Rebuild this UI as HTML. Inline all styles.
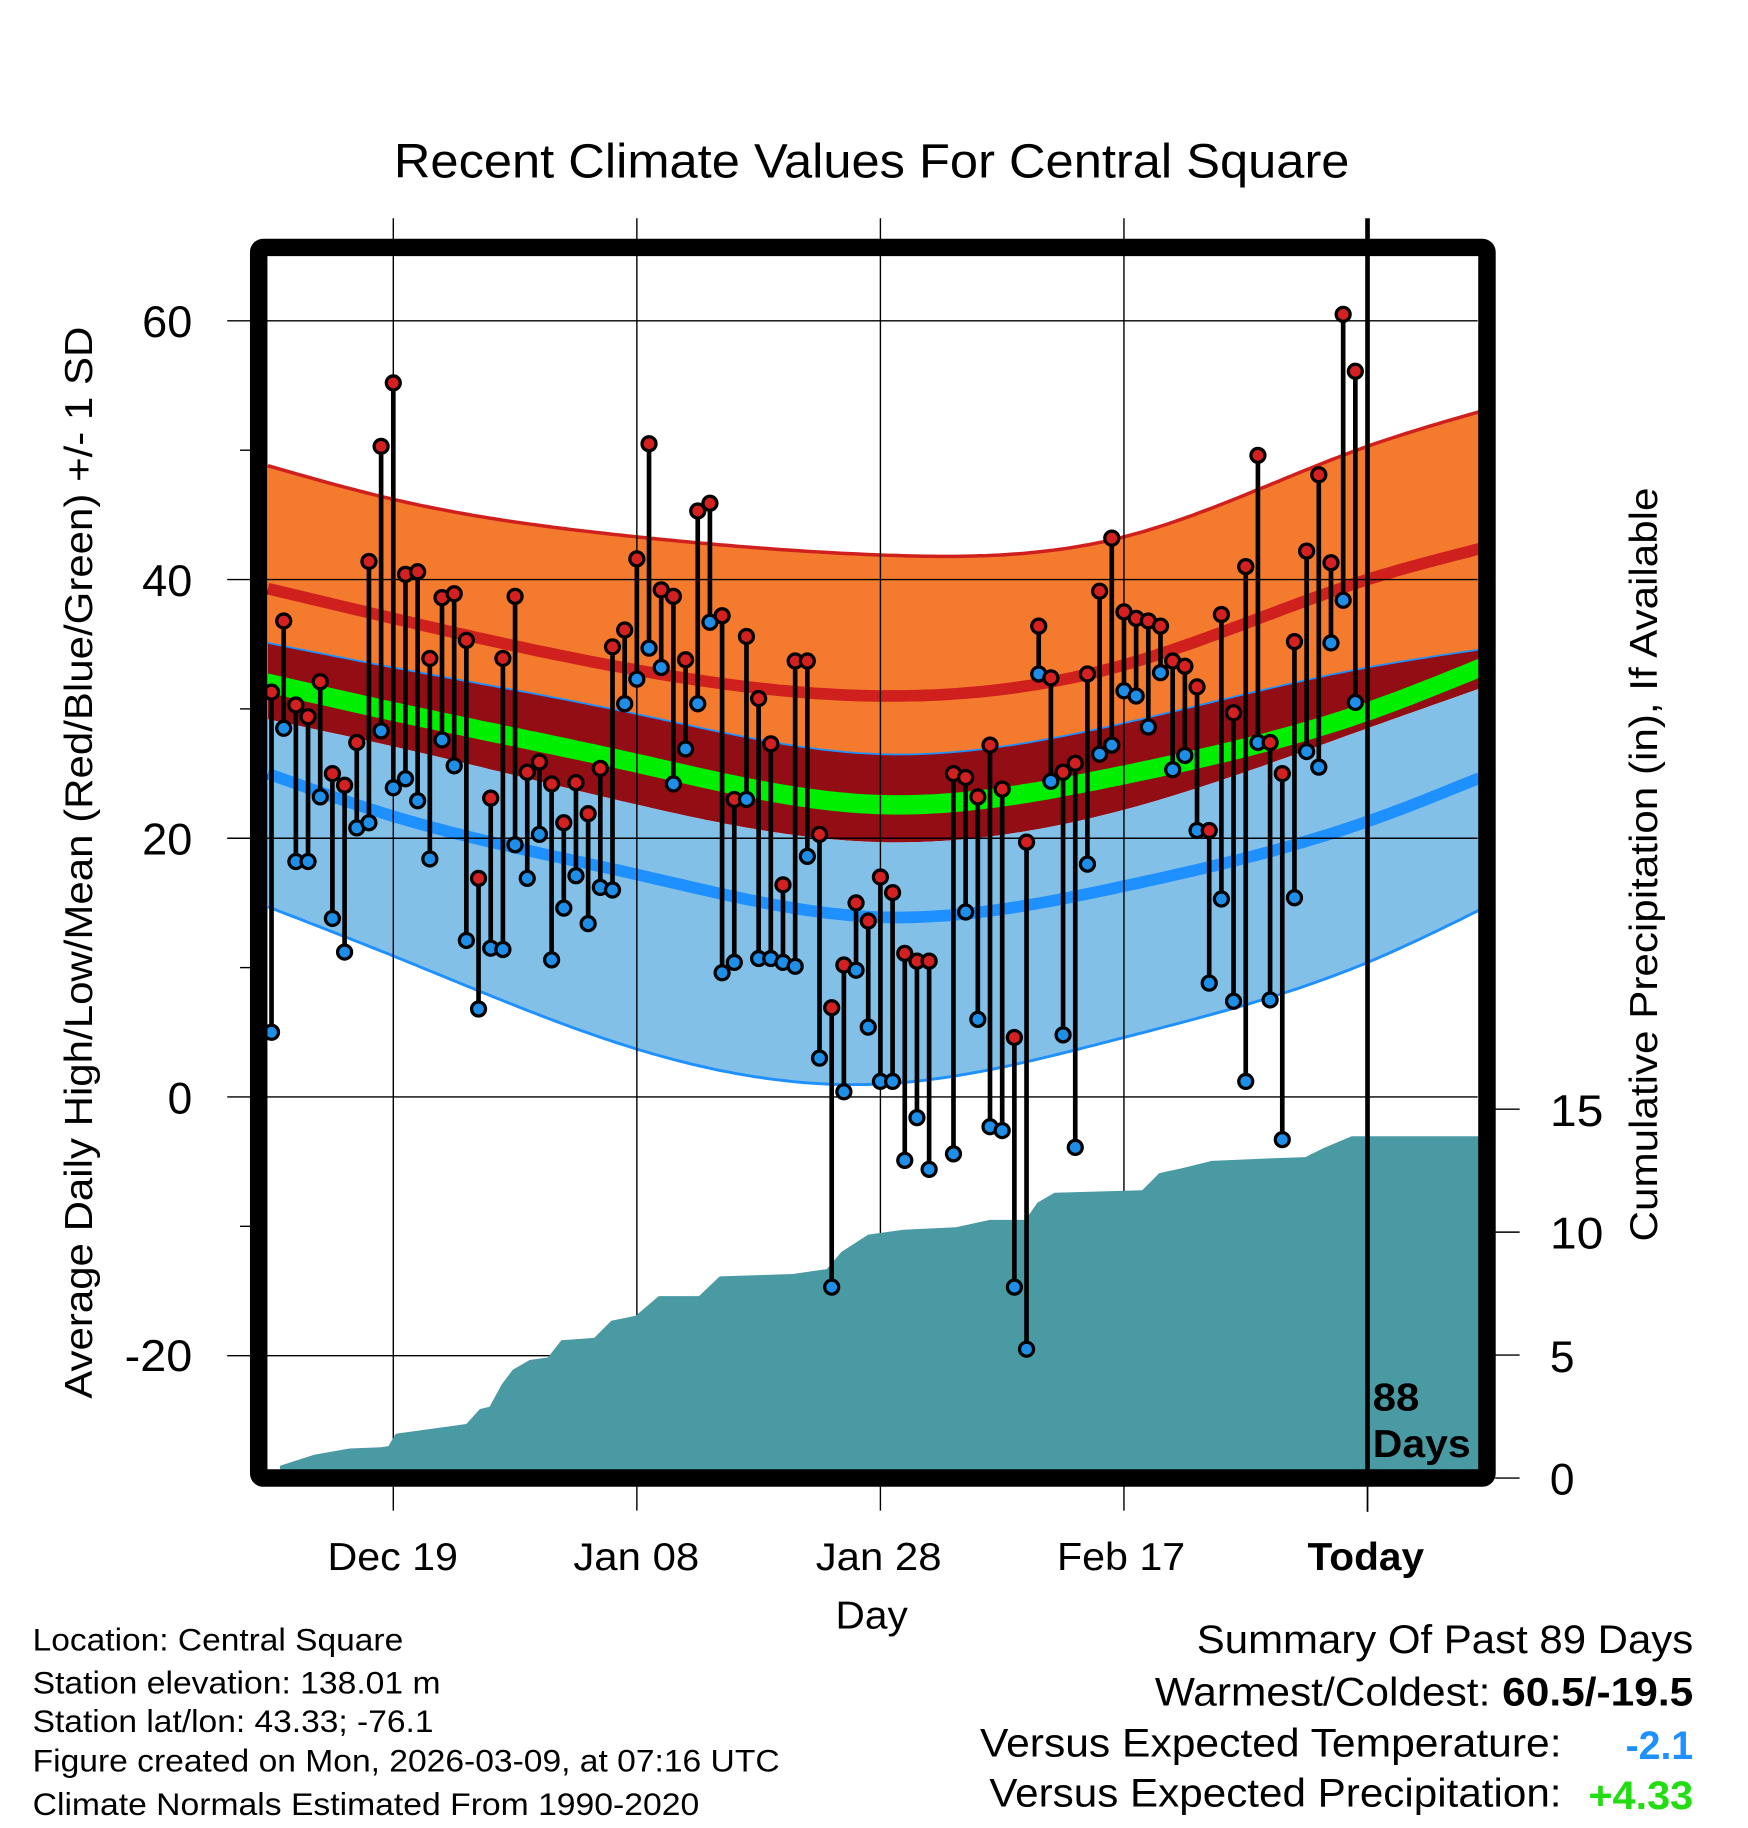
<!DOCTYPE html>
<html><head><meta charset="utf-8"><style>
html,body{margin:0;padding:0;background:#fff}
svg{display:block}
text{font-family:"Liberation Sans",sans-serif;fill:#000}
</style></head><body>
<svg id="chart" xmlns="http://www.w3.org/2000/svg" width="1748" height="1828" viewBox="0 0 1500 1568">
<defs><clipPath id="plotclip"><rect x="229" y="219" width="1040" height="1042"/></clipPath></defs>
<rect x="0" y="0" width="1500" height="1568" fill="#fff"/>
<g id="bands" clip-path="url(#plotclip)"></g>
<g id="grid"></g>
<g id="precip" clip-path="url(#plotclip)"></g>
<g id="points" clip-path="url(#plotclip)"></g>
<text x="338" y="152" font-size="41" textLength="820" lengthAdjust="spacingAndGlyphs">Recent Climate Values For Central Square</text>
<g font-size="38" text-anchor="end">
<text x="165" y="289" textLength="43" lengthAdjust="spacingAndGlyphs">60</text>
<text x="165" y="511" textLength="43" lengthAdjust="spacingAndGlyphs">40</text>
<text x="165" y="733" textLength="43" lengthAdjust="spacingAndGlyphs">20</text>
<text x="165" y="955">0</text>
<text x="165" y="1176" textLength="58" lengthAdjust="spacingAndGlyphs">-20</text>
</g>
<g font-size="38">
<text x="1330" y="966" textLength="46" lengthAdjust="spacingAndGlyphs">15</text>
<text x="1330" y="1071" textLength="46" lengthAdjust="spacingAndGlyphs">10</text>
<text x="1330" y="1177">5</text>
<text x="1330" y="1282">0</text>
</g>
<text transform="translate(79,1200) rotate(-90)" font-size="33" textLength="920" lengthAdjust="spacingAndGlyphs">Average Daily High/Low/Mean (Red/Blue/Green) +/- 1 SD</text>
<text transform="translate(1422,1065) rotate(-90)" font-size="33" textLength="647" lengthAdjust="spacingAndGlyphs">Cumulative Precipitation (in), If Available</text>
<g font-size="33">
<text x="281" y="1347" textLength="112" lengthAdjust="spacingAndGlyphs">Dec 19</text>
<text x="492" y="1347" textLength="108" lengthAdjust="spacingAndGlyphs">Jan 08</text>
<text x="700" y="1347" textLength="108" lengthAdjust="spacingAndGlyphs">Jan 28</text>
<text x="907" y="1347" textLength="110" lengthAdjust="spacingAndGlyphs">Feb 17</text>
<text x="1122" y="1347" font-weight="bold" textLength="100" lengthAdjust="spacingAndGlyphs">Today</text>
</g>
<text x="717" y="1397" font-size="33" textLength="62" lengthAdjust="spacingAndGlyphs">Day</text>
<text x="1178" y="1210" font-size="33" font-weight="bold" textLength="40" lengthAdjust="spacingAndGlyphs">88</text>
<text x="1178" y="1250" font-size="33" font-weight="bold" textLength="84" lengthAdjust="spacingAndGlyphs">Days</text>
<g font-size="27">
<text x="28" y="1416" textLength="318" lengthAdjust="spacingAndGlyphs">Location: Central Square</text>
<text x="28" y="1453" textLength="350" lengthAdjust="spacingAndGlyphs">Station elevation: 138.01 m</text>
<text x="28" y="1486" textLength="344" lengthAdjust="spacingAndGlyphs">Station lat/lon: 43.33; -76.1</text>
<text x="28" y="1520" textLength="641" lengthAdjust="spacingAndGlyphs">Figure created on Mon, 2026-03-09, at 07:16 UTC</text>
<text x="28" y="1557" textLength="572" lengthAdjust="spacingAndGlyphs">Climate Normals Estimated From 1990-2020</text>
</g>
<g font-size="34">
<text x="1027" y="1418" textLength="426" lengthAdjust="spacingAndGlyphs">Summary Of Past 89 Days</text>
<text x="991" y="1463" textLength="462" lengthAdjust="spacingAndGlyphs">Warmest/Coldest: <tspan font-weight="bold">60.5/-19.5</tspan></text>
<text x="841" y="1507" textLength="499" lengthAdjust="spacingAndGlyphs">Versus Expected Temperature:</text>
<text x="1395" y="1509" font-weight="bold" textLength="58" lengthAdjust="spacingAndGlyphs" style="fill:#1e90ff">-2.1</text>
<text x="849" y="1550" textLength="491" lengthAdjust="spacingAndGlyphs">Versus Expected Precipitation:</text>
<text x="1363" y="1552" font-weight="bold" textLength="90" lengthAdjust="spacingAndGlyphs" style="fill:#22dd11">+4.33</text>
</g>
<g id="frame"></g>
</svg>
<script>
const normDays=[-0.3,10,30,50,70,90,99.3];
const normHighPlus=[48.8,46.2,43.3,41.9,43.3,50.3,53.0];
const normHigh=[39.3,37.0,33.0,31.0,33.4,40.0,42.4];
const normHighMinus=[35.1,33.2,29.6,26.5,28.9,33.2,34.6];
const normMean=[32.0,29.8,25.8,22.6,24.9,29.8,33.2];
const normLowPlus=[29.2,27.1,22.6,19.7,22.2,28.5,31.6];
const normLow=[25.0,21.7,17.2,13.9,16.3,21.3,24.7];
const normLowMinus=[14.7,10.9,3.7,1.0,4.6,10.4,14.5];
const highs=[31.3,36.8,30.3,29.4,32.1,25.0,24.1,27.4,41.4,50.3,55.2,40.4,40.6,33.9,38.6,38.9,35.3,16.9,23.1,33.9,38.7,25.1,25.9,24.2,21.2,24.3,21.9,25.4,34.8,36.1,41.6,50.5,39.2,38.7,33.8,45.3,45.9,37.2,23.0,35.6,30.8,27.3,16.4,33.7,33.7,20.3,6.9,10.2,15.0,13.6,17.0,15.8,11.1,10.5,10.5,null,25.0,24.7,23.2,27.2,23.8,4.6,19.7,36.4,32.4,25.1,25.8,32.7,39.1,43.2,37.5,37.0,36.8,36.4,33.7,33.3,31.7,20.6,37.3,29.7,41.0,49.6,27.4,25.0,35.2,42.2,48.1,41.3,60.5,56.1];
const lows=[5.0,28.5,18.2,18.2,23.2,13.8,11.2,20.8,21.2,28.3,23.9,24.6,22.9,18.4,27.6,25.6,12.1,6.8,11.5,11.4,19.5,16.9,20.3,10.6,14.6,17.1,13.4,16.2,16.0,30.4,32.3,34.7,33.2,24.2,26.9,30.4,36.7,9.6,10.4,23.0,10.7,10.7,10.4,10.1,18.6,3.0,-14.7,0.4,9.8,5.4,1.2,1.2,-4.9,-1.6,-5.6,null,-4.4,14.3,6.0,-2.3,-2.6,-14.7,-19.5,32.7,24.4,4.8,-3.9,18.0,26.5,27.2,31.4,31.0,28.6,32.8,25.3,26.4,20.6,8.8,15.3,7.4,1.2,27.4,7.5,-3.3,15.4,26.7,25.5,35.1,38.4,30.5];
const precipDays=[0.7,3.5,6.4,9,9.6,10.2,13.1,16,17.1,17.9,18.9,19.8,21.2,22.7,23.8,26.5,27.9,29.9,31.8,35.1,36.8,42.8,45.6,46.8,49,51.9,56.2,59,61.9,62.9,64.3,71.5,72.9,74.8,77.2,82,84.9,86.3,88.7,99.5];
const precipVals=[0.5,0.95,1.2,1.25,1.3,1.8,2.0,2.2,2.8,2.9,3.8,4.4,4.8,4.9,5.6,5.7,6.4,6.6,7.4,7.4,8.2,8.3,8.5,9.2,9.9,10.1,10.2,10.5,10.5,11.2,11.6,11.7,12.4,12.6,12.9,13.0,13.05,13.4,13.9,13.9];
const gridTemps=[60,40,20,0,-20];
const minorTemps=[50,30,10,-10];
const gridDays=[10,30,50,70];
const todayDay=90;
const precipTicks=[0,5,10,15];

const NS='http://www.w3.org/2000/svg';
const X=d=>233+10.45*d;
const Y=t=>941-11.1*t;
const YP=p=>1268-21.1*p;
function mk(tag,attrs,parent){const e=document.createElementNS(NS,tag);for(const k in attrs)e.setAttribute(k,attrs[k]);parent.appendChild(e);return e;}
function spline(xs,ys){
  const n=xs.length,h=[],a=[],l=[1],mu=[0],z=[0],c=new Array(n).fill(0),b=[],d=[];
  for(let i=0;i<n-1;i++)h.push(xs[i+1]-xs[i]);
  for(let i=1;i<n-1;i++)a[i]=3/h[i]*(ys[i+1]-ys[i])-3/h[i-1]*(ys[i]-ys[i-1]);
  for(let i=1;i<n-1;i++){l[i]=2*(xs[i+1]-xs[i-1])-h[i-1]*mu[i-1];mu[i]=h[i]/l[i];z[i]=(a[i]-h[i-1]*z[i-1])/l[i];}
  for(let j=n-2;j>=0;j--){c[j]=(j>0?z[j]:0)-mu[j]*c[j+1];b[j]=(ys[j+1]-ys[j])/h[j]-h[j]*(c[j+1]+2*c[j])/3;d[j]=(c[j+1]-c[j])/(3*h[j]);}
  if(n>1){c[0]=0;b[0]=(ys[1]-ys[0])/h[0]-h[0]*(c[1])/3;d[0]=(c[1]-c[0])/(3*h[0]);}
  return x=>{let i=0;while(i<n-2&&x>xs[i+1])i++;const t=x-xs[i];return ys[i]+b[i]*t+c[i]*t*t+d[i]*t*t*t;};
}
function curve(vals){
  const f=spline(normDays,vals),pts=[];
  const d0=normDays[0],d1=normDays[normDays.length-1];
  for(let d=d0;d<=d1+0.001;d+=0.5)pts.push([X(d),Y(f(d))]);
  return pts;
}
const P=pts=>pts.map(p=>p[0].toFixed(1)+','+p[1].toFixed(1)).join(' ');
function band(a,b,fill,name){const pa=curve(a),pb=curve(b).reverse();
  const e=mk('polygon',{points:P(pa.concat(pb)),fill:fill},document.getElementById('bands'));
  
  }
function line(a,color,w,name){const e=mk('polyline',{points:P(curve(a)),fill:'none',stroke:color,'stroke-width':w},document.getElementById('bands'));
  
  }
band(normHighPlus,normHighMinus,'#f47a2e','high-sd-band');
band(normHighMinus,normLowPlus,'#920d14','mean-sd-band');
band(normLowPlus,normLowMinus,'#82c0e8','low-sd-band');
const gU=normMean.map(v=>v+0.75),gL=normMean.map(v=>v-0.75);
band(gU,gL,'#00ee00','mean-band');
line(normHighPlus,'#d0201e',3,'high-plus-sd-line');
line(normHigh,'#d0201e',10,'mean-high-line');
line(normHighMinus,'#1e90ff',1.5,'high-minus-sd-line');
line(normLow,'#1e90ff',10,'mean-low-line');
line(normLowMinus,'#1e90ff',2.5,'low-minus-sd-line');

const grid=document.getElementById('grid');
gridTemps.forEach(t=>{const e=mk('line',{x1:195,x2:1268,y1:Y(t),y2:Y(t),stroke:'#000','stroke-width':1.2},grid);
  
  });
minorTemps.forEach(t=>{const e=mk('line',{x1:206,x2:216,y1:Y(t),y2:Y(t),stroke:'#000','stroke-width':1.2},grid);
  
  });
gridDays.forEach(d=>{const e=mk('line',{x1:X(d),x2:X(d),y1:187,y2:1296,stroke:'#000','stroke-width':1.2},grid);
  
  });
precipTicks.forEach(p=>{const e=mk('line',{x1:1283,x2:1304,y1:YP(p),y2:YP(p),stroke:'#000','stroke-width':1.2},grid);
  
  });

const pg=document.getElementById('precip');
const pp=precipDays.map((d,i)=>[X(d),YP(precipVals[i])]);
pp.push([X(precipDays[precipDays.length-1]),1262]);pp.push([X(precipDays[0]),1262]);
const pe=mk('polygon',{points:P(pp),fill:'#4a9aa4'},pg);



const tl=mk('line',{x1:X(todayDay),x2:X(todayDay),y1:187,y2:1262,stroke:'#000','stroke-width':4},grid.parentNode);


const tt=mk('line',{x1:X(todayDay),x2:X(todayDay),y1:1270,y2:1297,stroke:'#000','stroke-width':1.5},grid.parentNode);



const pts=document.getElementById('points');
highs.forEach((h,i)=>{
  const l=lows[i]; if(h===null||l===null)return;
  const s=mk('line',{x1:X(i),x2:X(i),y1:Y(h),y2:Y(l),stroke:'#000','stroke-width':4},pts);
  
  
  const cl=mk('circle',{cx:X(i),cy:Y(l),r:6,fill:'#1e8fe8',stroke:'#000','stroke-width':2.8},pts);
  
  
  const ch=mk('circle',{cx:X(i),cy:Y(h),r:6,fill:'#d42020',stroke:'#000','stroke-width':2.8},pts);
  
  
});
const fr=mk('rect',{x:222,y:212,width:1054,height:1056,rx:4,fill:'none',stroke:'#000','stroke-width':15},document.getElementById('frame'));


</script>
</body></html>
